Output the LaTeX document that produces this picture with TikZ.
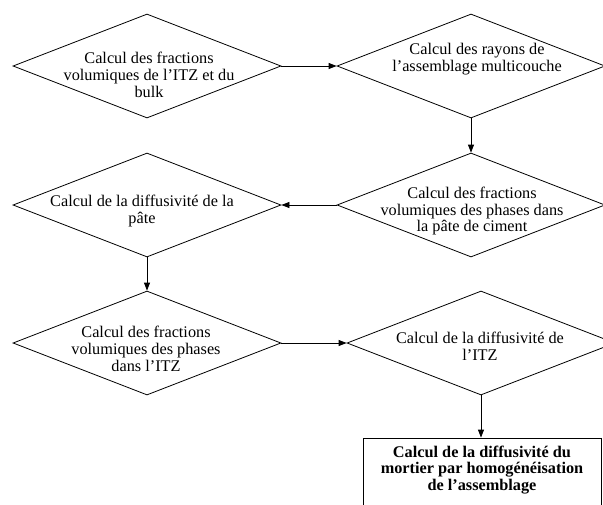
\documentclass[tikz,border=0pt]{standalone}
\usepackage{fontspec}
\setmainfont{Liberation Serif}
\usetikzlibrary{shapes.geometric,arrows.meta}
\begin{document}
\begin{tikzpicture}[x=0.75pt,y=-0.75pt,
  dia/.style={draw, diamond, inner sep=0pt, minimum width=201pt, minimum height=78pt, line width=0.6pt},
  txt/.style={align=center, font=\fontsize{12.2}{12.5}\selectfont, inner sep=0pt},
  btxt/.style={align=center, font=\fontsize{12.2}{12.5}\selectfont\bfseries, inner sep=0pt},
  boxst/.style={draw, rectangle, inner sep=0pt, minimum width=178.5pt, minimum height=54pt, line width=0.6pt},
  arr/.style={-{Triangle[length=6pt,width=4.5pt]}, line width=0.6pt}]
\useasboundingbox (0,0) rectangle (603,504);
\clip (0,0) rectangle (603,504);
% shapes
\node[dia] (d1) at (147,66) {};
\node[dia] (d2) at (471,66) {};
\node[dia] (d3) at (471,205) {};
\node[dia] (d4) at (147,205) {};
\node[dia] (d5) at (147,343) {};
\node[dia] (d6) at (481,343) {};
\node[boxst] (bx) at (482,474) {};
% texts
\node[txt] (t1) at (149,75) {Calcul des fractions\\volumiques de l’ITZ et du\\bulk};
\node[txt] (t2) at (477,59) {Calcul des rayons de\\l’assemblage multicouche};
\node[txt] (t3) at (472,211) {Calcul des fractions\\volumiques des phases dans\\la pâte de ciment};
\node[txt] (t4) at (142,211) {Calcul de la diffusivité de la\\pâte};
\node[txt] (t5) at (146,349) {Calcul des fractions\\volumiques des phases\\dans l’ITZ};
\node[txt] (t6) at (480,346) {Calcul de la diffusivité de\\l’ITZ};
\node[btxt] (tb) at (482,470) {Calcul de la diffusivité du\\mortier par homogénéisation\\de l’assemblage};
% connectors
\draw[arr] (d1.east) -- (d2.west);
\draw[arr] (d2.south) -- (d3.north);
\draw[arr] (d3.west) -- (d4.east);
\draw[arr] (d4.south) -- (d5.north);
\draw[arr] (d5.east) -- (d6.west);
\draw[arr] (d6.south) -- (d6.south |- bx.north);
\end{tikzpicture}
\end{document}
